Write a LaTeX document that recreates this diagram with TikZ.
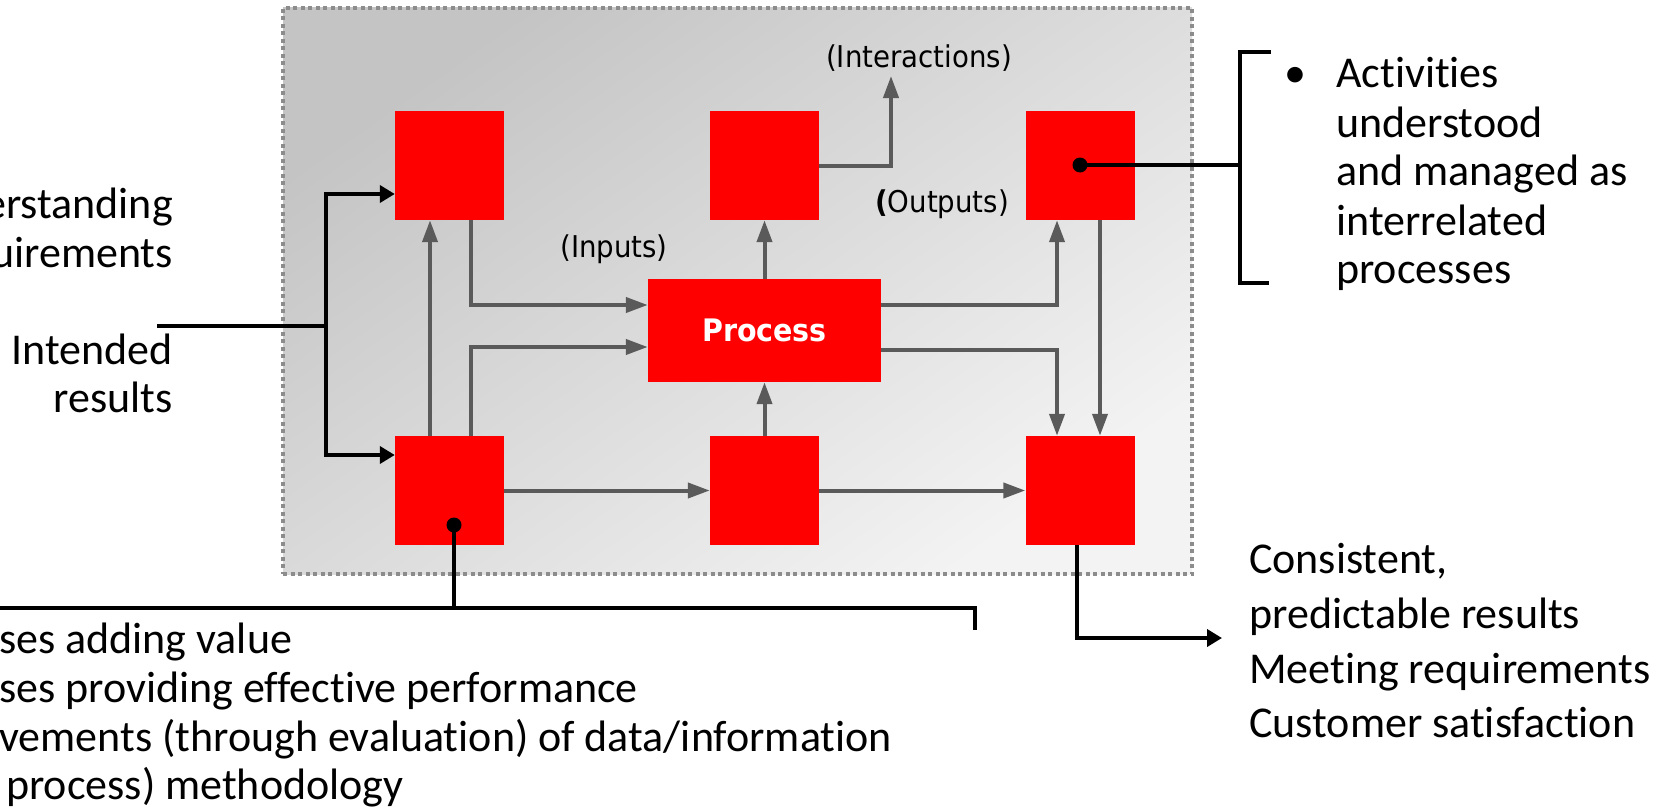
\documentclass[tikz,border=0pt]{standalone}
\usepackage{fontspec}
\setmainfont{Carlito}[Ligatures={NoCommon,NoContextual}]
\newfontfamily\labfont[FakeStretch=0.92]{DejaVu Sans}
\usetikzlibrary{arrows.meta}
\definecolor{boxred}{HTML}{FF0000}
\definecolor{arrgrey}{HTML}{5A5A5A}
\definecolor{framegrey}{HTML}{8C8C8C}
\definecolor{shadeA}{HTML}{C4C4C4}
\definecolor{shadeM}{HTML}{E8E8E8}
\definecolor{shadeB}{HTML}{F3F3F3}
\begin{document}
\begin{tikzpicture}[x=1pt,y=-1pt,
  redbox/.style={fill=boxred, draw=none, inner sep=0pt, minimum width=109pt, minimum height=109pt},
  garrow/.style={draw=arrgrey, line width=4pt, -{Triangle[length=22pt,width=15pt]}, arrgrey},
  bline/.style={draw=black, line width=4.5pt},
  barrow/.style={draw=black, line width=4.5pt, -{Triangle[length=15pt,width=17pt]}},
  bigtxt/.style={font=\fontsize{44}{49}\selectfont, inner sep=0pt},
  labtxt/.style={font=\labfont\fontsize{30}{30}\selectfont, inner sep=0pt},
  framebox/.style={inner sep=0pt, minimum width=909pt, minimum height=566pt,
    top color=shadeA, middle color=shadeM, bottom color=shadeB, shading angle=35,
    draw=framegrey, line width=4pt, dash pattern=on 4pt off 3.5pt}
]
\useasboundingbox (0,0) rectangle (1677,808);

% frame
\node[framebox] (frame) at (737.5,291) {};

% boxes
\node[redbox] (tl) at (449.5,165.5) {};
\node[redbox] (tm) at (764.5,165.5) {};
\node[redbox] (tr) at (1080,165.5) {};
\node[redbox] (bl) at (449.5,490.5) {};
\node[redbox] (bm) at (764.5,490.5) {};
\node[redbox] (br) at (1080,490.5) {};
\node[redbox, minimum width=233pt, minimum height=103pt,
      font=\labfont\bfseries\fontsize{31}{31}\selectfont, text=white] (proc) at (764.5,330.5) {Process};

% helper coordinates
\coordinate (xa) at (430,0);
\coordinate (xb) at (471,0);
\coordinate (xc) at (1057,0);
\coordinate (xd) at (1100,0);
\coordinate (ya) at (0,305);
\coordinate (yb) at (0,347);
\coordinate (yc) at (0,350);
\coordinate (inter) at (891,76);

% grey connectors
\draw[garrow] (bl.north -| xa) -- (tl.south -| xa);
\draw[garrow] (tl.south -| xb) |- (proc.west |- ya);
\draw[garrow] (bl.north -| xb) |- (proc.west |- yb);
\draw[garrow] (proc.north) -- (tm.south);
\draw[garrow] (tm.east) -| (inter);
\draw[garrow] (proc.east |- ya) -| (tr.south -| xc);
\draw[garrow] (proc.east |- yc) -| (br.north -| xc);
\draw[garrow] (tr.south -| xd) -- (br.north -| xd);
\draw[garrow] (bm.north) -- (proc.south);
\draw[garrow] (bl.east) -- (bm.west);
\draw[garrow] (bm.east) -- (br.west);

% labels inside frame
\node[labtxt, anchor=base] (linter) at (919,67) {(Interactions)};
\node[labtxt, anchor=base] (linputs) at (614,257) {(Inputs)};
\node[labtxt, anchor=base] (loutputs) at (942,212) {{\bfseries (}Outputs)};

% left black connector
\coordinate (lin) at (157,326);
\coordinate (jn) at (326,326);
\coordinate (ytl) at (0,194);
\coordinate (ybl) at (0,455);
\draw[bline] (lin) -- (jn);
\draw[barrow] (jn) |- (tl.west |- ytl);
\draw[barrow] (jn) |- (bl.west |- ybl);

% right top dot and bracket
\coordinate (dotr) at (1080,165);
\coordinate (brm) at (1240,165);
\coordinate (brt) at (1240,52);
\coordinate (brb) at (1240,283);
\coordinate (brtr) at (1271,52);
\coordinate (brbr) at (1269,283);
\fill (dotr) circle (7.5pt);
\draw[bline] (dotr) -- (brm);
\draw[bline] (brtr) -- (brt) -- (brb) -- (brbr);

% bottom-left dot and bracket
\coordinate (dotl) at (454,525);
\coordinate (bbm) at (454,608);
\coordinate (bbl) at (-5,608);
\coordinate (bbr) at (975,608);
\coordinate (bbe) at (975,630);
\fill (dotl) circle (7.5pt);
\draw[bline] (dotl) -- (bbm);
\draw[bline] (bbl) -- (bbr) -- (bbe);

% bottom-right output
\coordinate (outc) at (1077,638);
\coordinate (outend) at (1222,638);
\draw[barrow] (br.south -| outc) |- (outend);

% left texts
\node[bigtxt, anchor=base east] (t1) at (173,218) {erstanding};
\node[bigtxt, anchor=base east] (t2) at (173,267) {uirements};
\node[bigtxt, anchor=base east] (t3) at (173,364) {Intended};
\node[bigtxt, anchor=base east] (t4) at (173,412) {results};

% right top texts
\node[bigtxt, anchor=base] (bul) at (1295,87) {•};
\node[bigtxt, anchor=base west] (r1) at (1336,87) {Activities};
\node[bigtxt, anchor=base west] (r2) at (1336,137) {understood};
\node[bigtxt, anchor=base west] (r3) at (1336,185) {and managed as};
\node[bigtxt, anchor=base west] (r4) at (1336,235) {interrelated};
\node[bigtxt, anchor=base west] (r5) at (1336,283) {processes};

% bottom-left texts
\node[bigtxt, anchor=base west] (b1) at (-1,653) {ses adding value};
\node[bigtxt, anchor=base west] (b2) at (-1,702) {ses providing effective performance};
\node[bigtxt, anchor=base west] (b3) at (-1,751) {vements (through evaluation) of data/information};
\node[bigtxt, anchor=base west] (b4) at (6,799) {process) methodology};

% bottom-right texts
\node[bigtxt, anchor=base west] (c1) at (1249,573) {Consistent,};
\node[bigtxt, anchor=base west] (c2) at (1249,628) {predictable results};
\node[bigtxt, anchor=base west] (c3) at (1249,683) {Meeting requirements};
\node[bigtxt, anchor=base west] (c4) at (1249,737) {Customer satisfaction};
\end{tikzpicture}
\end{document}
